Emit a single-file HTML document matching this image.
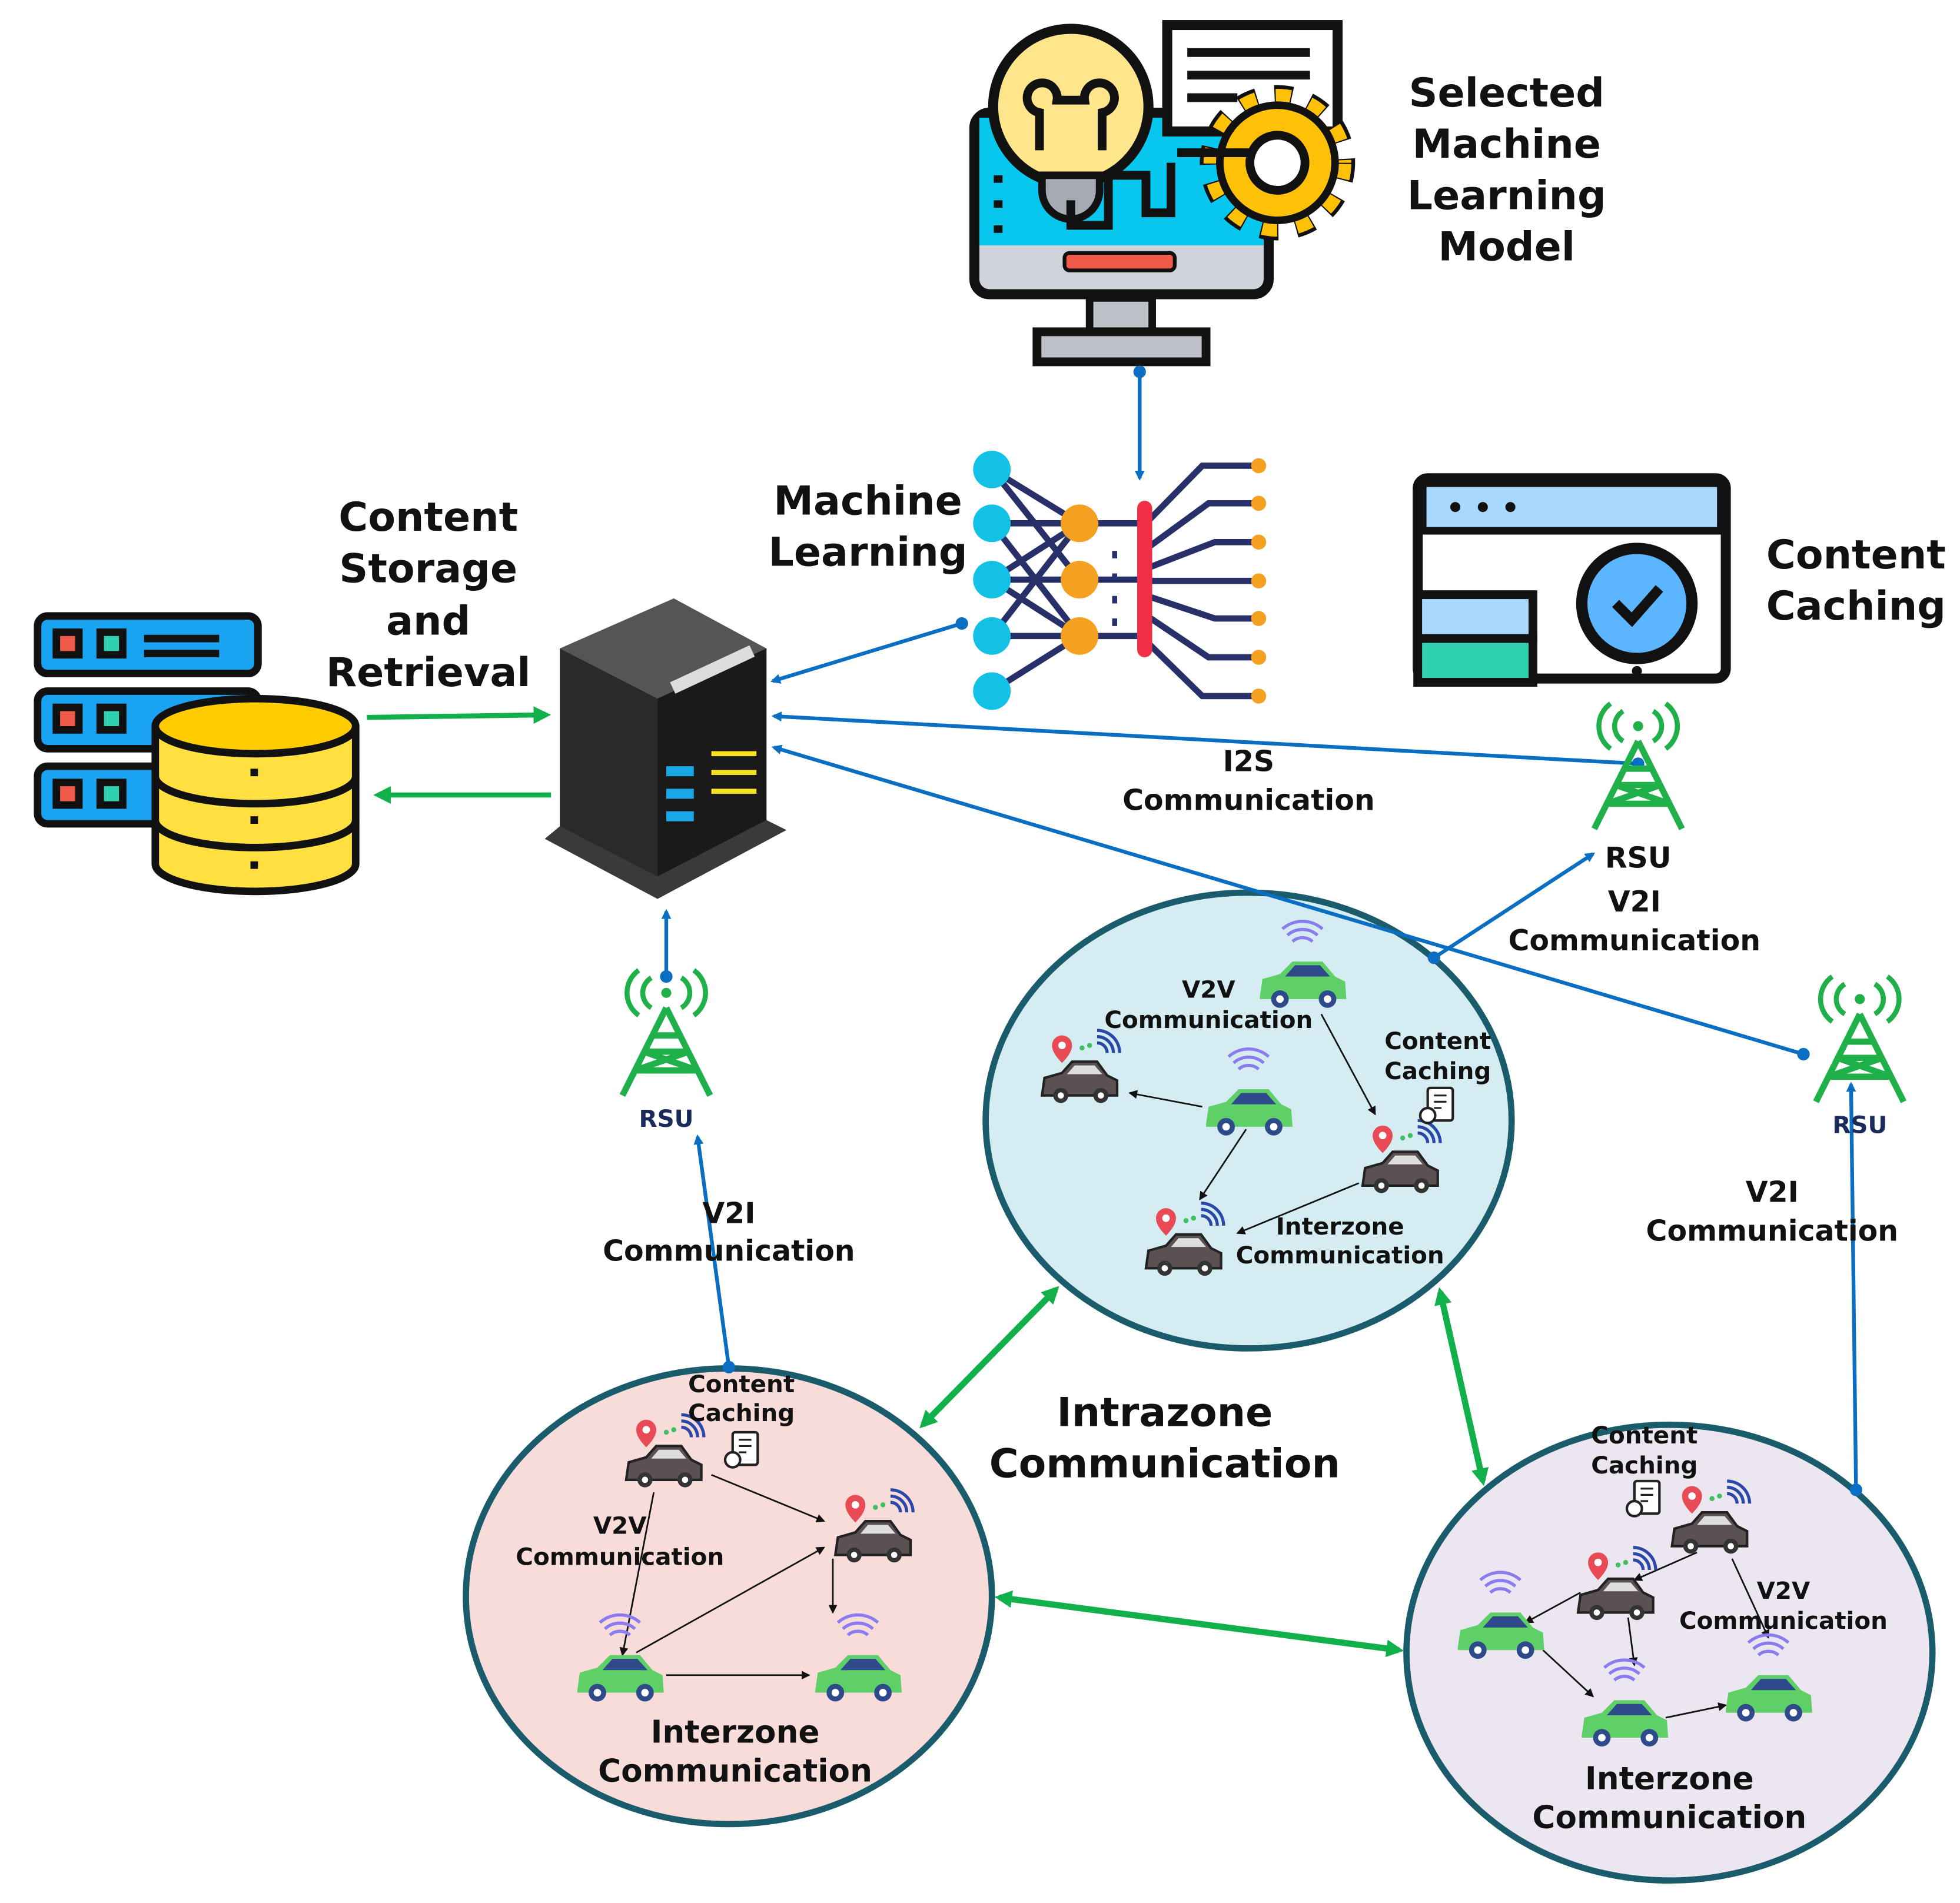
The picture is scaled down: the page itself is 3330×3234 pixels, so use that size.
<!DOCTYPE html>
<html><head><meta charset="utf-8"><style>
html,body{margin:0;padding:0;background:#fff}
svg{display:block}
text{font-family:"DejaVu Sans","Liberation Sans",sans-serif;font-weight:bold;text-anchor:middle;fill:#111}
</style></head><body>
<svg width="3330" height="3234" viewBox="0 0 1565 1520" preserveAspectRatio="none" xmlns="http://www.w3.org/2000/svg">
<defs>
<marker id="ab" markerWidth="8" markerHeight="8" refX="6" refY="4" orient="auto" markerUnits="userSpaceOnUse"><path d="M0,0 L8,4 L0,8 z" fill="#0a6fc2"/></marker>
<marker id="ag" markerWidth="14" markerHeight="14" refX="10" refY="7" orient="auto-start-reverse" markerUnits="userSpaceOnUse"><path d="M0,0 L14,7 L0,14 z" fill="#12b04a"/></marker>
<marker id="ak" markerWidth="7" markerHeight="7" refX="6" refY="3.5" orient="auto" markerUnits="userSpaceOnUse"><path d="M0,0 L7,3.5 L0,7 z" fill="#111"/></marker>
<g id="gcar">
<path d="M-34,8 L-32,-6 L-18,-10 L-8,-20 L16,-20 L26,-8 L34,-4 L35,10 L-34,10 z" fill="#5fd068"/>
<path d="M-6,-17 L14,-17 L22,-8 L-14,-8 z" fill="#2e4a8a"/>
<circle cx="-18" cy="10" r="7" fill="#2e4a8a"/><circle cx="-18" cy="10" r="3" fill="#fff"/>
<circle cx="20" cy="10" r="7" fill="#2e4a8a"/><circle cx="20" cy="10" r="3" fill="#fff"/>
<path d="M-8,-36 a12,12 0 0 1 16,0 M-12,-41 a18,18 0 0 1 24,0 M-16,-46 a24,24 0 0 1 32,0" stroke="#8a7cf0" stroke-width="2.5" fill="none"/>
</g>
<g id="kcar">
<path d="M-30,10 L-28,-4 L-14,-8 L-6,-17 L14,-17 L22,-6 L30,-2 L30,10 z" fill="#5b5152" stroke="#222" stroke-width="2"/>
<path d="M-4,-14 L12,-14 L18,-7 L-10,-7 z" fill="#ddd"/>
<circle cx="-15" cy="10" r="6" fill="#333"/><circle cx="-15" cy="10" r="2.5" fill="#fff"/>
<circle cx="17" cy="10" r="6" fill="#333"/><circle cx="17" cy="10" r="2.5" fill="#fff"/>
<path d="M-22,-30 a8,8 0 1 1 16,0 q0,6 -8,14 q-8,-8 -8,-14z" fill="#e84b55"/><circle cx="-14" cy="-30" r="3" fill="#fff"/>
<path d="M14,-32 a8,8 0 0 1 8,8 M14,-37 a13,13 0 0 1 13,13 M14,-42 a18,18 0 0 1 18,18" stroke="#2a48a8" stroke-width="2.5" fill="none"/>
<circle cx="2" cy="-28" r="2" fill="#40c060"/><circle cx="8" cy="-30" r="2" fill="#40c060"/>
</g>
<g id="doc"><rect x="-10" y="-14" width="20" height="26" rx="2" fill="#fff" stroke="#222" stroke-width="2"/><path d="M-5,-8 h10 M-5,-3 h10 M-5,2 h6" stroke="#222" stroke-width="1.5"/><circle cx="-10" cy="8" r="6" fill="#fff" stroke="#222" stroke-width="2"/></g>
<g id="rsu">
<path d="M0,0 L-35,70 M0,0 L35,70 M-25,50 L25,50 M-18,35 L18,35 M-25,50 L18,35 M25,50 L-18,35 M-12,22 L12,22" stroke="#1fb04a" stroke-width="5" fill="none"/>
<circle cx="0" cy="-12" r="4" fill="#1fb04a"/>
<path d="M-12,-24 a14,14 0 0 0 0,24 M12,-24 a14,14 0 0 1 0,24 M-22,-30 a22,22 0 0 0 0,36 M22,-30 a22,22 0 0 1 0,36" stroke="#1fb04a" stroke-width="4" fill="none"/>
</g>
</defs>

<!-- Monitor -->
<rect x="778" y="90" width="235" height="145" rx="12" fill="#cfd3da" stroke="#111" stroke-width="8"/>
<rect x="782" y="94" width="227" height="102" fill="#08c7ef"/>
<rect x="850" y="202" width="88" height="14" rx="4" fill="#f05a4a" stroke="#111" stroke-width="3"/>
<rect x="870" y="238" width="50" height="30" fill="#bfc3c9" stroke="#111" stroke-width="6"/>
<rect x="828" y="265" width="135" height="24" fill="#bfc3c9" stroke="#111" stroke-width="7"/>
<path d="M797,140 v6 M797,160 v6 M797,180 v6" stroke="#111" stroke-width="7"/>
<rect x="932" y="20" width="136" height="85" fill="#fff" stroke="#111" stroke-width="8"/>
<path d="M948,42 h98 M948,60 h98 M948,78 h40" stroke="#111" stroke-width="7"/>
<circle cx="855" cy="85" r="62" fill="#ffe68a" stroke="#111" stroke-width="8"/>
<path d="M830,120 L830,90 a12,12 0 1 1 14,-10 L866,80 a12,12 0 1 1 14,10 L880,120" stroke="#111" stroke-width="7" fill="none"/>
<path d="M832,140 h46 v12 a23,23 0 0 1 -46,0 z" fill="#a5aab3" stroke="#111" stroke-width="6"/>
<path d="M855,160 v20 h30 v-40 h30 v30 h20 v-40" stroke="#111" stroke-width="7" fill="none"/>
<circle cx="1020" cy="130" r="54" fill="none" stroke="#111" stroke-width="16" stroke-dasharray="14 14"/>
<circle cx="1020" cy="130" r="54" fill="none" stroke="#ffc107" stroke-width="10" stroke-dasharray="12 16" stroke-dashoffset="-1"/>
<circle cx="1020" cy="130" r="46" fill="#ffc107" stroke="#111" stroke-width="6"/>
<circle cx="1020" cy="130" r="22" fill="#fff" stroke="#111" stroke-width="7"/>
<path d="M940,122 h58" stroke="#111" stroke-width="7"/>
<text font-size="32" x="1203" y="85">Selected</text>
<text font-size="32" x="1203" y="126">Machine</text>
<text font-size="32" x="1203" y="167">Learning</text>
<text font-size="32" x="1203" y="208">Model</text>

<line x1="910" y1="297" x2="910" y2="382" stroke="#0a6fc2" stroke-width="3" marker-end="url(#ab)"/>
<circle cx="910" cy="297" r="5" fill="#0a6fc2"/>

<!-- Neural net -->
<g stroke="#28306a" stroke-width="5" fill="none">
<path d="M792,375 L862,418 M792,375 L862,463 M792,418 L862,418 M792,418 L862,508 M792,463 L862,418 M792,463 L862,463 M792,463 L862,508 M792,508 L862,418 M792,508 L862,508 M792,552 L862,508 M862,418 H913 M862,463 H913 M862,508 H913"/>
<path d="M913,420 L960,372 H1005 M913,440 L965,402 H1005 M913,455 L970,433 H1005 M913,464 H1005 M913,475 L970,494 H1005 M913,490 L965,525 H1005 M913,510 L960,556 H1005"/>
</g>
<g fill="#13c0e6"><circle cx="792" cy="375" r="15"/><circle cx="792" cy="418" r="15"/><circle cx="792" cy="463" r="15"/><circle cx="792" cy="508" r="15"/><circle cx="792" cy="552" r="15"/></g>
<g fill="#f4a020"><circle cx="862" cy="418" r="15"/><circle cx="862" cy="463" r="15"/><circle cx="862" cy="508" r="15"/>
<circle cx="1005" cy="372" r="6"/><circle cx="1005" cy="402" r="6"/><circle cx="1005" cy="433" r="6"/><circle cx="1005" cy="464" r="6"/><circle cx="1005" cy="494" r="6"/><circle cx="1005" cy="525" r="6"/><circle cx="1005" cy="556" r="6"/></g>
<rect x="908" y="400" width="12" height="125" rx="6" fill="#ee2f45"/>
<path d="M890,440 v6 M890,458 v6 M890,476 v6 M890,494 v6" stroke="#28306a" stroke-width="4"/>
<text font-size="32" x="693" y="411">Machine</text>
<text font-size="32" x="693" y="452">Learning</text>

<!-- Content caching icon -->
<rect x="1132" y="382" width="246" height="160" rx="8" fill="#fff" stroke="#111" stroke-width="8"/>
<rect x="1136" y="386" width="238" height="38" fill="#a9d8ff" stroke="#111" stroke-width="6"/>
<circle cx="1162" cy="405" r="4" fill="#111"/><circle cx="1184" cy="405" r="4" fill="#111"/><circle cx="1206" cy="405" r="4" fill="#111"/>
<rect x="1132" y="475" width="92" height="35" fill="#a9d8ff" stroke="#111" stroke-width="7"/>
<rect x="1132" y="510" width="92" height="35" fill="#2fd0b0" stroke="#111" stroke-width="7"/>
<circle cx="1307" cy="482" r="44" fill="#5cb6ff" stroke="#111" stroke-width="9"/>
<path d="M1290,482 L1303,495 L1325,470" stroke="#111" stroke-width="8" fill="none"/>
<circle cx="1307" cy="536" r="4" fill="#111"/>
<text font-size="32" x="1482" y="454">Content</text>
<text font-size="32" x="1482" y="495">Caching</text>

<!-- Server -->
<path d="M447,518 L538,478 L612,518 L612,665 L525,712 L447,668 z" fill="#2a2a2a"/>
<path d="M447,518 L538,478 L612,518 L525,558 z" fill="#555"/>
<path d="M525,558 L612,518 L612,665 L525,712 z" fill="#1a1a1a"/>
<path d="M435,670 L525,718 L628,663 L612,655 L525,700 L447,660 z" fill="#3a3a3a"/>
<rect x="535" y="545" width="70" height="10" fill="#ddd" transform="rotate(-25 535 545)"/>
<g fill="#19a7e8"><rect x="532" y="612" width="22" height="8"/><rect x="532" y="630" width="22" height="8"/><rect x="532" y="648" width="22" height="8"/></g>
<g fill="#f4e020"><rect x="568" y="600" width="36" height="4"/><rect x="568" y="615" width="36" height="4"/><rect x="568" y="630" width="36" height="4"/></g>

<!-- Database -->
<g stroke="#111" stroke-width="6">
<rect x="30" y="492" width="176" height="46" rx="8" fill="#1aa3f0"/>
<rect x="30" y="552" width="176" height="46" rx="8" fill="#1aa3f0"/>
<rect x="30" y="612" width="176" height="46" rx="8" fill="#1aa3f0"/>
<rect x="45" y="505" width="18" height="18" fill="#f05a4a"/><rect x="80" y="505" width="18" height="18" fill="#2fd0b0"/>
<rect x="45" y="565" width="18" height="18" fill="#f05a4a"/><rect x="80" y="565" width="18" height="18" fill="#2fd0b0"/>
<rect x="45" y="625" width="18" height="18" fill="#f05a4a"/><rect x="80" y="625" width="18" height="18" fill="#2fd0b0"/>
<path d="M115,510 h60 M115,522 h60" />
<path d="M124,580 v110 a80,22 0 0 0 160,0 v-110" fill="#ffe040"/>
<ellipse cx="204" cy="580" rx="80" ry="22" fill="#ffcc00"/>
<path d="M124,620 a80,22 0 0 0 160,0 M124,655 a80,22 0 0 0 160,0" fill="none"/>
</g>
<rect x="200" y="614" width="6" height="6" fill="#111"/><rect x="200" y="652" width="6" height="6" fill="#111"/><rect x="200" y="688" width="6" height="6" fill="#111"/>
<text font-size="32" x="342" y="424">Content</text>
<text font-size="32" x="342" y="465">Storage</text>
<text font-size="32" x="342" y="507">and</text>
<text font-size="32" x="342" y="548">Retrieval</text>
<line x1="293" y1="573" x2="436" y2="571" stroke="#12b04a" stroke-width="4" marker-end="url(#ag)"/>
<line x1="440" y1="635" x2="302" y2="635" stroke="#12b04a" stroke-width="4" marker-end="url(#ag)"/>

<!-- circles -->
<ellipse cx="997" cy="895" rx="210" ry="182" fill="#d5edf2" stroke="#1a5c6b" stroke-width="5"/>
<ellipse cx="582" cy="1275" rx="210" ry="182" fill="#f7dcd9" stroke="#1a5c6b" stroke-width="5"/>
<ellipse cx="1333" cy="1320" rx="210" ry="182" fill="#ece6f0" stroke="#1a5c6b" stroke-width="5"/>

<!-- blue lines -->
<g stroke="#0a6fc2" stroke-width="3" fill="none" marker-end="url(#ab)">
<line x1="768" y1="498" x2="617" y2="544"/>
<line x1="1308" y1="610" x2="618" y2="572"/>
<line x1="1440" y1="842" x2="618" y2="597"/>
<line x1="1145" y1="765" x2="1272" y2="682"/>
<line x1="532" y1="780" x2="532" y2="728"/>
<line x1="582" y1="1092" x2="557" y2="908"/>
<line x1="1482" y1="1190" x2="1478" y2="866"/>
</g>
<g fill="#0a6fc2"><circle cx="768" cy="498" r="5"/><circle cx="1308" cy="610" r="5"/><circle cx="1440" cy="842" r="5"/><circle cx="1145" cy="765" r="5"/><circle cx="532" cy="780" r="5"/><circle cx="582" cy="1092" r="5"/><circle cx="1482" cy="1190" r="5"/></g>

<use href="#rsu" x="1308" y="592"/>
<use href="#rsu" x="532" y="805"/>
<use href="#rsu" x="1485" y="810"/>
<text font-size="23" x="1308" y="693">RSU</text>
<text font-size="19" x="532" y="900" style="fill:#1a2a5a">RSU</text>
<text font-size="19" x="1485" y="905" style="fill:#1a2a5a">RSU</text>

<text font-size="23" x="997" y="616">I2S</text>
<text font-size="23" x="997" y="647">Communication</text>
<text font-size="23" x="1305" y="728">V2I</text>
<text font-size="23" x="1305" y="759">Communication</text>
<text font-size="23" x="582" y="977">V2I</text>
<text font-size="23" x="582" y="1007">Communication</text>
<text font-size="23" x="1415" y="960">V2I</text>
<text font-size="23" x="1415" y="991">Communication</text>

<!-- green double arrows -->
<g stroke="#12b04a" stroke-width="5" marker-start="url(#ag)" marker-end="url(#ag)">
<line x1="737" y1="1138" x2="843" y2="1030"/>
<line x1="1150" y1="1032" x2="1184" y2="1183"/>
<line x1="798" y1="1276" x2="1117" y2="1318"/>
</g>
<text font-size="32" x="930" y="1139">Intrazone</text>
<text font-size="32" x="930" y="1180">Communication</text>

<!-- top circle content -->
<g stroke="#111" stroke-width="1.3" marker-end="url(#ak)" fill="none">
<line x1="960" y1="884" x2="902" y2="873"/>
<line x1="1055" y1="810" x2="1098" y2="890"/>
<line x1="995" y1="902" x2="958" y2="958"/>
<line x1="1085" y1="945" x2="988" y2="985"/>
</g>
<use href="#gcar" x="1040" y="788"/>
<use href="#gcar" x="997" y="890"/>
<use href="#kcar" x="862" y="865"/>
<use href="#kcar" x="1118" y="937"/>
<use href="#kcar" x="945" y="1003"/>
<use href="#doc" x="1150" y="883"/>
<text font-size="19" x="965" y="797">V2V</text>
<text font-size="19" x="965" y="821">Communication</text>
<text font-size="19" x="1148" y="838">Content</text>
<text font-size="19" x="1148" y="862">Caching</text>
<text font-size="19" x="1070" y="986">Interzone</text>
<text font-size="19" x="1070" y="1009">Communication</text>

<!-- pink circle content -->
<g stroke="#111" stroke-width="1.3" marker-end="url(#ak)" fill="none">
<line x1="568" y1="1178" x2="658" y2="1215"/>
<line x1="522" y1="1192" x2="497" y2="1322"/>
<line x1="532" y1="1338" x2="646" y2="1338"/>
<line x1="508" y1="1320" x2="658" y2="1236"/>
<line x1="665" y1="1245" x2="665" y2="1288"/>
</g>
<use href="#kcar" x="530" y="1172"/>
<use href="#kcar" x="697" y="1232"/>
<use href="#gcar" x="495" y="1342"/>
<use href="#gcar" x="685" y="1342"/>
<use href="#doc" x="595" y="1158"/>
<text font-size="19" x="592" y="1112">Content</text>
<text font-size="19" x="592" y="1135">Caching</text>
<text font-size="19" x="495" y="1225">V2V</text>
<text font-size="19" x="495" y="1250">Communication</text>
<text font-size="25" x="587" y="1392">Interzone</text>
<text font-size="25" x="587" y="1423">Communication</text>

<!-- lavender content -->
<g stroke="#111" stroke-width="1.3" marker-end="url(#ak)" fill="none">
<line x1="1383" y1="1245" x2="1412" y2="1308"/>
<line x1="1355" y1="1240" x2="1305" y2="1262"/>
<line x1="1262" y1="1272" x2="1218" y2="1296"/>
<line x1="1300" y1="1292" x2="1305" y2="1330"/>
<line x1="1232" y1="1318" x2="1272" y2="1355"/>
<line x1="1330" y1="1372" x2="1378" y2="1362"/>
</g>
<use href="#kcar" x="1365" y="1225"/>
<use href="#kcar" x="1290" y="1278"/>
<use href="#gcar" x="1198" y="1308"/>
<use href="#gcar" x="1297" y="1378"/>
<use href="#gcar" x="1412" y="1358"/>
<use href="#doc" x="1315" y="1197"/>
<text font-size="19" x="1313" y="1153">Content</text>
<text font-size="19" x="1313" y="1177">Caching</text>
<text font-size="19" x="1424" y="1277">V2V</text>
<text font-size="19" x="1424" y="1301">Communication</text>
<text font-size="25" x="1333" y="1429">Interzone</text>
<text font-size="25" x="1333" y="1460">Communication</text>
</svg>
</body></html>
